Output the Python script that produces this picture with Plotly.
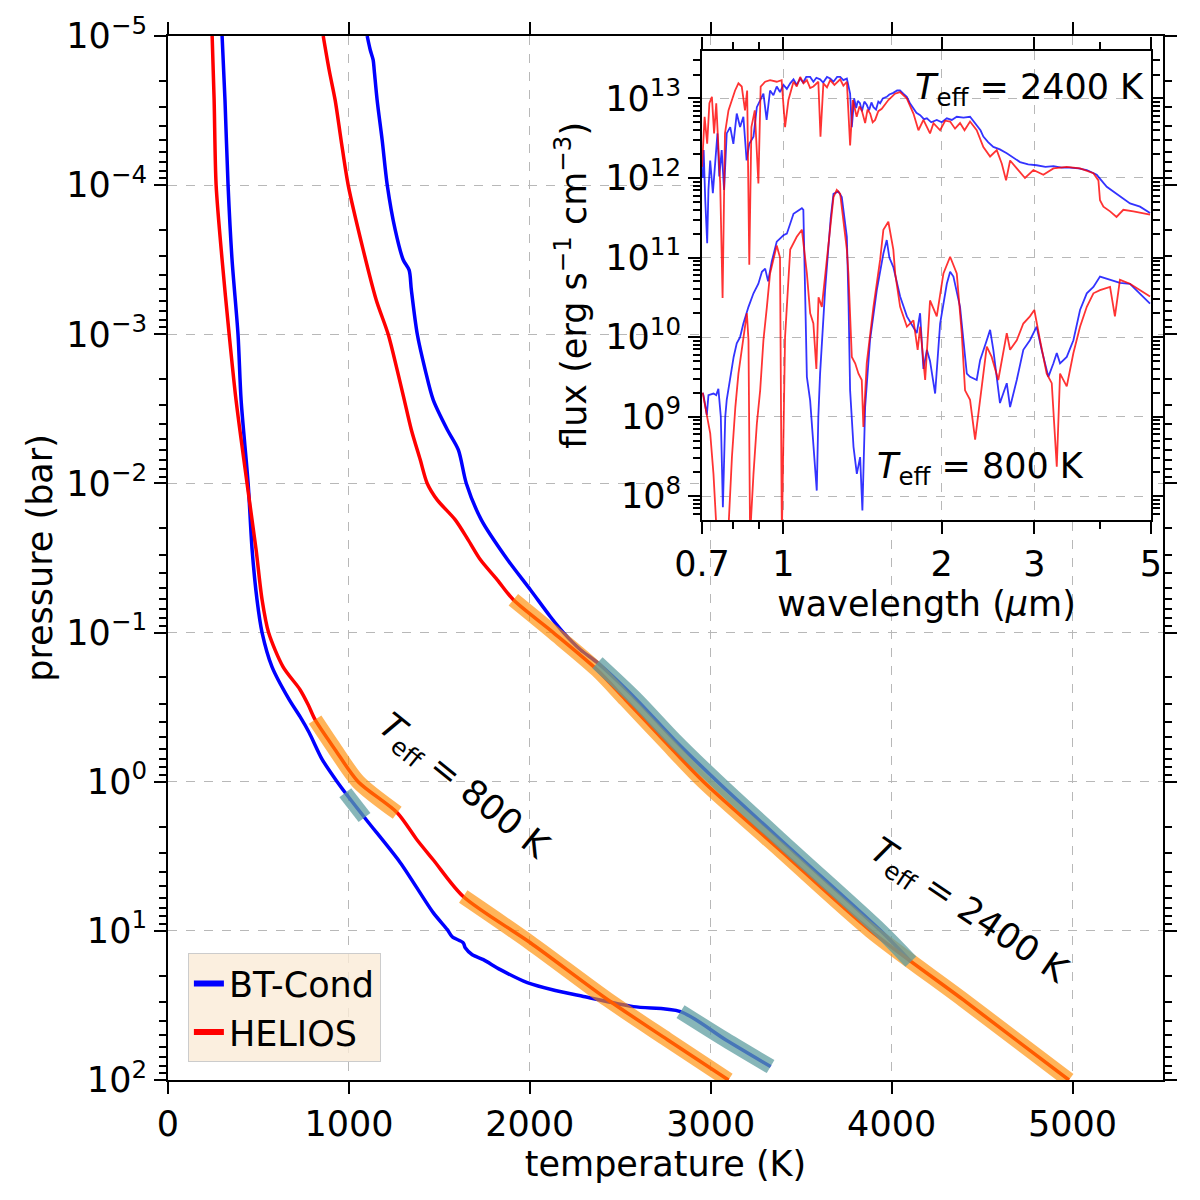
import numpy as np
import plotly.graph_objects as go

# ---------------- main panel: P-T profiles (log10 pressure in bar, temperature in K)
bt800_logp = [-5.0, -4.57, -4.0, -3.5, -3.0, -2.56, -2.0, -1.555, -1.22, -1.0, -0.77, -0.55, -0.436, -0.33,
              -0.15, 0.0, 0.074, 0.255, 0.543, 0.878, 0.992, 1.04, 1.08, 1.113, 1.16, 1.193, 1.26, 1.347,
              1.40, 1.44, 1.508, 1.541, 1.73, 1.91]
bt800_T = [299, 315, 332, 354, 387, 404, 443, 465, 492, 520, 575, 670, 730, 780,
           852, 935, 980, 1096, 1284, 1466, 1544, 1571, 1632, 1643, 1682, 1743, 1837, 1986,
           2141, 2296, 2573, 2833, 3082, 3331]

he800_logp = [-5.0, -4.57, -4.0, -3.5, -3.0, -2.56, -2.0, -1.555, -1.22, -1.0, -0.77, -0.617, -0.516,
              -0.416, -0.215, 0.0, 0.208, 0.389, 0.525, 0.77, 1.08, 1.46, 1.73, 2.0]
he800_T = [244, 255, 266, 299, 338, 376, 437, 487, 520, 556, 636, 730, 775,
           813, 924, 1051, 1267, 1376, 1467, 1632, 2003, 2429, 2761, 3098]

bt2400_logp = [-5.0, -4.906, -4.84, -4.77, -4.57, -4.30, -4.0, -3.70, -3.50, -3.43, -3.30, -3.0, -2.76,
               -2.56, -2.36, -2.225, -2.0, -1.756, -1.49, -1.287, -1.106, -1.0, -0.885, -0.798, -0.55,
               -0.28, 0.0, 0.456, 1.0, 1.206]
bt2400_T = [1101, 1118, 1134, 1140, 1156, 1184, 1212, 1256, 1300, 1333, 1345, 1378, 1422,
            1466, 1544, 1605, 1649, 1732, 1876, 2003, 2114, 2186, 2280, 2374, 2590,
            2800, 3038, 3447, 3940, 4106]

he2400_logp = [-5.0, -4.77, -4.57, -4.30, -4.0, -3.566, -3.23, -3.0, -2.76, -2.56, -2.36, -2.16, -2.0,
               -1.89, -1.756, -1.62, -1.49, -1.354, -1.22, -1.0, -0.75, -0.55, -0.28, 0.0, 0.456, 1.0,
               1.46, 2.0]
he2400_T = [858, 891, 924, 957, 996, 1079, 1151, 1217, 1267, 1306, 1345, 1394, 1433,
            1488, 1588, 1660, 1726, 1820, 1909, 2130, 2372, 2529, 2739, 2960, 3381, 3884,
            4393, 4980]

# convective (highlighted) pressure ranges, log10 bar
bt800_conv = [(0.074, 0.24), (1.541, 1.91)]
he800_conv = [(-0.416, 0.208), (0.77, 2.0)]
bt2400_conv = [(-0.798, 1.206)]
he2400_conv = [(-1.22, 2.0)]

# ---------------- inset: spectra (wavelength in micron, log10 flux in erg s^-1 cm^-3)
bt2400_wl = [0.702, 0.705, 0.71, 0.716, 0.72, 0.7255, 0.734, 0.741, 0.749, 0.755, 0.763, 0.771, 0.78,
             0.792, 0.803, 0.815, 0.827, 0.839, 0.851, 0.861, 0.877, 0.89, 0.903, 0.916, 0.929, 0.943,
             0.957, 0.971, 0.985, 1.0, 1.015, 1.03, 1.045, 1.06, 1.076, 1.09, 1.105, 1.124, 1.14, 1.155,
             1.174, 1.19, 1.21, 1.227, 1.245, 1.265, 1.282, 1.30, 1.32, 1.339, 1.349, 1.363, 1.375, 1.385,
             1.398, 1.41, 1.425, 1.44, 1.455, 1.47, 1.483, 1.50, 1.515, 1.527, 1.545, 1.572, 1.59, 1.618,
             1.645, 1.666, 1.69, 1.716, 1.74, 1.767, 1.79, 1.82, 1.85, 1.874, 1.91, 1.957, 2.0, 2.045,
             2.09, 2.136, 2.2, 2.264, 2.331, 2.37, 2.40, 2.45, 2.507, 2.58, 2.659, 2.74, 2.818, 2.92,
             3.031, 3.15, 3.262, 3.38, 3.508, 3.64, 3.775, 3.943, 4.12, 4.365, 4.562, 4.766, 4.98]
bt2400_lf = [12.0, 12.35, 11.72, 11.18, 11.85, 12.22, 11.81, 12.14, 12.56, 12.02, 12.35, 11.85, 12.56,
             12.64, 12.43, 12.81, 12.64, 12.77, 12.22, 12.43, 12.52, 12.89, 12.98, 13.06, 12.73, 13.1,
             13.04, 13.15, 13.08, 13.17, 13.12, 13.19, 13.24, 13.17, 13.25, 13.2, 13.27, 13.27, 13.21, 13.26,
             13.24, 13.2, 13.27, 13.25, 13.21, 13.27, 13.27, 13.23, 13.25, 13.06, 12.64, 13.0, 12.88, 12.97,
             12.94, 12.84, 12.96, 12.92, 12.85, 12.95, 12.89, 12.86, 12.96, 12.94, 13.0, 13.02, 13.05, 13.07,
             13.1, 13.1, 13.06, 13.02, 12.94, 12.87, 12.82, 12.79, 12.74, 12.75, 12.7, 12.73, 12.7, 12.75,
             12.73, 12.77, 12.76, 12.77, 12.67, 12.6, 12.52, 12.45, 12.39, 12.36, 12.31, 12.25, 12.20, 12.17,
             12.16, 12.14, 12.15, 12.13, 12.13, 12.12, 12.10, 12.04, 11.89, 11.77, 11.68, 11.64, 11.56]

he2400_wl = [0.70, 0.708, 0.716, 0.723, 0.731, 0.738, 0.745, 0.752, 0.758, 0.766, 0.774, 0.786, 0.797,
             0.809, 0.821, 0.833, 0.845, 0.853, 0.861, 0.869, 0.882, 0.896, 0.905, 0.923, 0.943, 0.971,
             0.992, 1.007, 1.022, 1.045, 1.06, 1.076, 1.092, 1.108, 1.124, 1.14, 1.165, 1.176, 1.191,
             1.21, 1.227, 1.25, 1.282, 1.30, 1.32, 1.339, 1.355, 1.378, 1.395, 1.409, 1.43, 1.445, 1.462,
             1.478, 1.494, 1.515, 1.538, 1.583, 1.63, 1.666, 1.716, 1.767, 1.806, 1.846, 1.90, 1.929,
             1.986, 2.03, 2.075, 2.12, 2.167, 2.21, 2.264, 2.331, 2.40, 2.472, 2.545, 2.602, 2.651, 2.698,
             2.778, 2.880, 2.988, 3.121, 3.262, 3.458, 3.665, 3.886, 3.972, 4.0, 4.06, 4.18, 4.30, 4.43,
             4.63, 4.835, 4.98]
he2400_lf = [12.14, 12.77, 12.43, 12.94, 13.02, 12.56, 12.94, 12.35, 11.93, 10.49, 12.56, 12.85, 12.98,
             13.1, 13.19, 13.15, 12.85, 13.1, 10.91, 12.64, 12.85, 11.93, 13.15, 13.21, 13.23, 13.21,
             13.23, 12.64, 12.98, 13.21, 13.15, 13.27, 13.19, 13.23, 13.13, 13.15, 13.21, 12.52, 13.19,
             13.14, 13.23, 13.17, 13.24, 13.16, 13.21, 12.41, 12.98, 12.77, 12.9, 12.85, 12.69, 12.86, 12.81,
             12.7, 12.73, 12.84, 12.87, 12.98, 13.06, 13.08, 13.0, 12.81, 12.60, 12.73, 12.56, 12.69,
             12.60, 12.72, 12.71, 12.62, 12.69, 12.6, 12.71, 12.60, 12.39, 12.27, 12.35, 12.18, 11.97, 12.22,
             12.12, 12.0, 12.10, 12.04, 12.12, 12.14, 12.12, 12.06, 11.97, 11.72, 11.64, 11.58, 11.51, 11.60,
             11.58, 11.56, 11.54]

bt800_wl = [0.702, 0.7045, 0.715, 0.72, 0.736, 0.745, 0.752, 0.760, 0.767, 0.775, 0.780, 0.792, 0.804,
            0.815, 0.827, 0.839, 0.858, 0.877, 0.896, 0.910, 0.923, 0.935, 0.95, 0.971, 1.0, 1.015, 1.045,
            1.084, 1.091, 1.100, 1.108, 1.124, 1.140, 1.157, 1.165, 1.174, 1.20, 1.218, 1.23, 1.245,
            1.272, 1.291, 1.320, 1.330, 1.339, 1.359, 1.379, 1.399, 1.413, 1.43, 1.461, 1.505, 1.549,
            1.572, 1.59, 1.618, 1.667, 1.717, 1.793, 1.819, 1.846, 1.874, 1.90, 1.943, 1.986, 2.045,
            2.075, 2.105, 2.167, 2.232, 2.264, 2.331, 2.366, 2.436, 2.472, 2.507, 2.581, 2.659, 2.698,
            2.778, 2.859, 2.943, 3.031, 3.098, 3.19, 3.262, 3.31, 3.358, 3.458, 3.56, 3.665, 3.775,
            3.886, 4.0, 4.18, 4.365, 4.56, 4.766, 4.98]
bt800_lf = [9.30, 9.27, 9.02, 9.27, 9.29, 9.27, 9.35, 9.0, 7.86, 9.0, 9.21, 9.50, 9.75,
            9.92, 10.0, 10.17, 10.38, 10.55, 10.67, 10.82, 10.86, 10.70, 10.95, 11.2, 11.28, 11.30, 11.55,
            11.62, 11.60, 10.5, 9.5, 9.2, 8.6, 8.07, 9.0, 9.54, 10.59, 11.22, 11.5, 11.80,
            11.83, 11.76, 11.26, 10.4, 9.33, 8.62, 8.28, 8.49, 7.82, 9.12, 9.96, 10.59, 11.05,
            11.22, 11.0, 10.88, 10.51, 10.26, 10.05, 10.30, 9.60, 9.84, 9.70, 9.29, 10.17, 10.67,
            10.82, 10.76, 10.38, 9.54, 9.50, 9.46, 9.71, 9.96, 10.09, 9.84, 9.17, 9.42, 9.12,
            9.46, 9.84, 9.96, 10.13, 9.84, 9.50, 9.67, 9.80, 9.67, 9.75, 9.96, 10.34, 10.55,
            10.63, 10.76, 10.72, 10.68, 10.67, 10.55, 10.42]

he800_wl = [0.702, 0.7045, 0.715, 0.7256, 0.736, 0.747, 0.764, 0.786, 0.798, 0.810, 0.821, 0.839, 0.852,
            0.858, 0.864, 0.877, 0.890, 0.903, 0.916, 0.930, 0.943, 0.971, 0.985, 0.993, 1.007, 1.030,
            1.060, 1.084, 1.108, 1.124, 1.140, 1.155, 1.166, 1.183, 1.209, 1.245, 1.263, 1.282, 1.320,
            1.329, 1.349, 1.369, 1.389, 1.409, 1.419, 1.440, 1.483, 1.527, 1.549, 1.583, 1.618, 1.631,
            1.667, 1.717, 1.767, 1.80, 1.82, 1.86, 1.90, 1.957, 2.015, 2.075, 2.136, 2.183, 2.215,
            2.264, 2.315, 2.366, 2.436, 2.489, 2.562, 2.659, 2.698, 2.778, 2.859, 2.943, 3.0, 3.076,
            3.167, 3.238, 3.31, 3.358, 3.458, 3.56, 3.665, 3.775, 3.886, 4.0, 4.18, 4.27, 4.365,
            4.56, 4.766, 4.98]
he800_lf = [9.30, 9.25, 9.04, 8.79, 8.28, 7.5, 7.3, 7.6, 8.49, 9.12, 9.54, 9.96, 10.30,
            9.96, 7.5, 8.28, 8.91, 9.33, 9.96, 10.38, 10.80, 11.15, 11.0, 7.5, 10.0, 11.1,
            11.26, 11.35, 10.8, 10.3, 10.17, 9.6, 10.5, 10.38, 11.0, 11.76, 11.85, 11.80, 11.10,
            10.80, 9.75, 9.67, 9.54, 9.46, 8.87, 9.67, 10.38, 10.97, 11.35, 11.45, 11.10, 10.80,
            10.38, 10.13, 10.21, 9.84, 10.13, 9.46, 10.46, 10.26, 10.80, 11.01, 10.80, 10.05, 9.33,
            9.21, 8.71, 9.21, 9.88, 9.75, 9.46, 10.05, 9.84, 9.96, 10.17, 10.26, 10.34, 9.96,
            9.54, 9.42, 8.37, 9.54, 9.38, 9.80, 10.13, 10.38, 10.55, 10.59, 10.63, 10.26, 10.72,
            10.67, 10.59, 10.51]

# ---------------- styling
FONT = "DejaVu Sans"
FS = 35
BLUE = "#0000ff"
RED = "#ff0000"
ORANGE = "rgba(255,140,0,0.65)"
TEAL = "rgba(95,158,160,0.75)"
GRID = "#b8b8b8"

fig = go.Figure()


def profile(T, logp, color):
    fig.add_trace(go.Scatter(x=T, y=10 ** np.array(logp, dtype=float), mode="lines",
                             line=dict(color=color, width=3.5, shape="spline", smoothing=0.8),
                             showlegend=False, hoverinfo="skip"))


def highlight(T, logp, ranges, color):
    lp = np.array(logp, dtype=float)
    tt = np.array(T, dtype=float)
    for lo, hi in ranges:
        inner = lp[(lp > lo) & (lp < hi)]
        seg_lp = np.concatenate([[lo], inner, [hi]])
        seg_T = np.interp(seg_lp, lp, tt)
        fig.add_trace(go.Scatter(x=seg_T, y=10 ** seg_lp, mode="lines",
                                 line=dict(color=color, width=15, shape="spline", smoothing=0.8),
                                 showlegend=False, hoverinfo="skip"))


profile(bt800_T, bt800_logp, BLUE)
profile(he800_T, he800_logp, RED)
profile(bt2400_T, bt2400_logp, BLUE)
profile(he2400_T, he2400_logp, RED)
highlight(he800_T, he800_logp, he800_conv, ORANGE)
highlight(he2400_T, he2400_logp, he2400_conv, ORANGE)
highlight(bt800_T, bt800_logp, bt800_conv, TEAL)
highlight(bt2400_T, bt2400_logp, bt2400_conv, TEAL)

# legend entries
fig.add_trace(go.Scatter(x=[None], y=[None], mode="lines", line=dict(color=BLUE, width=6), name="BT-Cond"))
fig.add_trace(go.Scatter(x=[None], y=[None], mode="lines", line=dict(color=RED, width=6), name="HELIOS"))

# inset spectra
for wl, lf, col in [(bt2400_wl, bt2400_lf, "rgba(0,0,255,0.8)"), (he2400_wl, he2400_lf, "rgba(255,0,0,0.8)"),
                    (bt800_wl, bt800_lf, "rgba(0,0,255,0.8)"), (he800_wl, he800_lf, "rgba(255,0,0,0.8)")]:
    fig.add_trace(go.Scatter(x=wl, y=10 ** np.array(lf, dtype=float), mode="lines", xaxis="x2", yaxis="y2",
                             line=dict(color=col, width=1.8), showlegend=False, hoverinfo="skip"))

# ticks
p_ticks = [10.0 ** k for k in range(-5, 3)]
p_text = ["10<sup>−%d</sup>" % (-k) if k < 0 else "10<sup>%d</sup>" % k for k in range(-5, 3)]
p_minor = [m * 10.0 ** k for k in range(-5, 2) for m in range(2, 10)]
f_ticks = [10.0 ** k for k in range(8, 14)]
f_text = ["10<sup>%d</sup>" % k for k in range(8, 14)]
f_minor = [m * 10.0 ** k for k in range(7, 14) for m in range(2, 10) if 7.70 < np.log10(m * 10.0 ** k) < 13.60]
wl_ticks = [0.7, 1, 2, 3, 5]
wl_text = ["0.7", "1", "2", "3", "5"]
wl_minor = [0.8, 0.9, 4]

axis_common = dict(showline=True, linecolor="black", linewidth=2, mirror="ticks", ticks="outside",
                   ticklen=12, tickwidth=2, tickcolor="black", showgrid=True, gridcolor=GRID,
                   griddash="dash", gridwidth=1, zeroline=False,
                   tickfont=dict(family=FONT, size=FS, color="black"))

fig.update_layout(
    width=1200, height=1200,
    margin=dict(l=168, r=37, t=36, b=120),
    paper_bgcolor="white", plot_bgcolor="white",
    font=dict(family=FONT, size=FS, color="black"),
    xaxis=dict(range=[0, 5500], tickvals=[0, 1000, 2000, 3000, 4000, 5000],
               title=dict(text="temperature (K)", font=dict(size=FS), standoff=4), **axis_common),
    yaxis=dict(type="log", range=[2, -5], tickvals=p_ticks, ticktext=p_text,
               minor=dict(tickvals=p_minor, ticks="outside", ticklen=7, tickwidth=1.5, tickcolor="black",
                          showgrid=False),
               title=dict(text="pressure (bar)", font=dict(size=FS), standoff=3), **axis_common),
    xaxis2=dict(type="log", range=[np.log10(0.7), np.log10(5)], domain=[0.5367, 0.9879], anchor="y2",
                tickvals=wl_ticks, ticktext=wl_text,
                minor=dict(tickvals=wl_minor, ticks="outside", ticklen=7, tickwidth=1.5, tickcolor="black",
                           showgrid=False),
                title=dict(text="wavelength (<i>μ</i>m)", font=dict(size=FS), standoff=1), **axis_common),
    yaxis2=dict(type="log", range=[7.70, 13.60], domain=[0.5364, 0.9859], anchor="x2",
                tickvals=f_ticks, ticktext=f_text,
                minor=dict(tickvals=f_minor, ticks="outside", ticklen=7, tickwidth=1.5, tickcolor="black",
                           showgrid=False),
                title=dict(text="flux (erg s<sup>−1</sup> cm<sup>−3</sup>)", font=dict(size=FS), standoff=8),
                **axis_common),
    legend=dict(x=0.02, y=0.017, xanchor="left", yanchor="bottom", bgcolor="rgba(250,235,215,0.8)",
                bordercolor="#cccccc", borderwidth=1, font=dict(family=FONT, size=FS, color="black"),
                tracegroupgap=0),
)

ann_font = dict(family=FONT, size=FS, color="black")
fig.add_annotation(x=1632, y=0.036, xref="x", yref="y", text="<i>T</i><sub>eff</sub> = 800 K",
                   showarrow=False, textangle=39, font=ann_font)
fig.add_annotation(x=4427, y=0.874, xref="x", yref="y", text="<i>T</i><sub>eff</sub> = 2400 K",
                   showarrow=False, textangle=34, font=ann_font)
fig.add_annotation(x=np.log10(2.94), y=13.107, xref="x2", yref="y2", text="<i>T</i><sub>eff</sub> = 2400 K",
                   showarrow=False, font=ann_font)
fig.add_annotation(x=0.374, y=8.352, xref="x2", yref="y2", text="<i>T</i><sub>eff</sub> = 800 K",
                   showarrow=False, font=ann_font)

fig.write_html("out.html")
